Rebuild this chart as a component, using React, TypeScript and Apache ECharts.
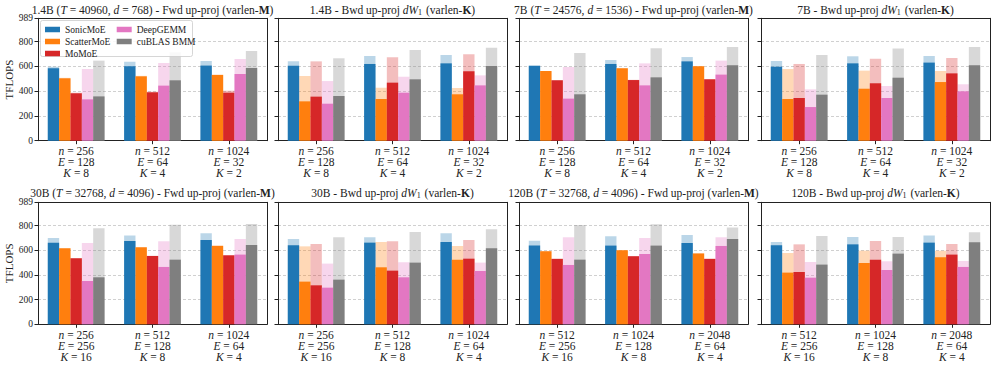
import React, { useEffect, useRef } from "react";
import * as echarts from "echarts";

// ---------- data ----------
const methods = ["SonicMoE", "ScatterMoE", "MoMoE", "DeepGEMM", "cuBLAS BMM"];
const colors = ["#1f77b4", "#ff7f0e", "#d62728", "#e377c2", "#7f7f7f"];
const lightColors = [
  "rgba(31,119,180,0.3)",
  "rgba(255,127,14,0.3)",
  "rgba(214,39,40,0.3)",
  "rgba(227,119,194,0.3)",
  "rgba(127,127,127,0.3)",
];

const modelNames = ["1.4B", "7B", "30B", "120B"];
const tokenCounts = ["40960", "24576", "32768", "32768"];
const hiddenDims = ["768", "1536", "4096", "4096"];

// per model: n, E, K
const nVals = [[256, 512, 1024], [256, 512, 1024], [256, 512, 1024], [512, 1024, 2048]];
const eVals = [[128, 64, 32], [128, 64, 32], [256, 128, 64], [256, 128, 64]];
const kVals = [[8, 4, 2], [8, 4, 2], [16, 8, 4], [16, 8, 4]];

// panels: 1.4B Fwd, 1.4B Bwd, 7B Fwd, 7B Bwd, 30B Fwd, 30B Bwd, 120B Fwd, 120B Bwd
const sonicAchieved = [[585, 601, 607], [606, 620, 625], [604, 620, 641], [598, 625, 631], [662, 676, 684], [640, 662, 667], [638, 638, 659], [640, 648, 662]];
const sonicPeak = [[598, 638, 644], [641, 685, 693], [612, 652, 676], [644, 682, 685], [700, 719, 738], [692, 705, 738], [678, 713, 724], [667, 708, 719]];
const scatterAchieved = [[504, 520, 531], [318, 337, 375], [563, 585, 601], [337, 420, 474], [616, 624, 635], [346, 462, 524], [592, 600, 573], [419, 497, 543]];
const scatterPeak = [[508, 524, 534], [523, 428, 426], [563, 587, 601], [579, 566, 563], [618, 626, 640], [632, 667, 635], [594, 602, 575], [578, 597, 597]];
const momoeAchieved = [[383, 391, 388], [356, 469, 561], [488, 490, 496], [345, 464, 544], [535, 554, 559], [316, 435, 532], [530, 551, 530], [424, 524, 565]];
const momoePeak = [[388, 396, 404], [641, 674, 698], [490, 492, 498], [620, 663, 668], [537, 556, 561], [651, 673, 684], [532, 553, 532], [648, 676, 651]];
const deepgemmAchieved = [[334, 445, 539], [299, 388, 447], [340, 447, 534], [272, 345, 399], [351, 465, 565], [297, 381, 432], [481, 570, 635], [378, 440, 465]];
const deepgemmPeak = [[579, 628, 660], [482, 517, 528], [596, 625, 647], [415, 442, 456], [659, 673, 692], [492, 503, 500], [705, 700, 705], [505, 511, 513]];
const cublasAchieved = [[358, 488, 587], [361, 496, 604], [375, 512, 609], [372, 509, 609], [381, 524, 643], [362, 500, 616], [524, 638, 692], [484, 573, 665]];
const cublasPeak = [[647, 714, 725], [666, 733, 752], [709, 747, 757], [693, 744, 757], [778, 808, 813], [705, 748, 770], [805, 811, 784], [716, 708, 746]];

const yMax = 989;
const yTickInterval = 200;

const achieved = [sonicAchieved, scatterAchieved, momoeAchieved, deepgemmAchieved, cublasAchieved];
const peak = [sonicPeak, scatterPeak, momoePeak, deepgemmPeak, cublasPeak];

// ---------- layout ----------
const FONT = "'Liberation Serif', 'DejaVu Serif', serif";
const TEXT = "#222";
const gridLefts = [38, 278, 519, 761];
const gridWidth = 229;
const gridTops = [18.3, 202.3];
const gridHeights = [122.4, 122];
const titleTops = [3, 186.5];
const barW = 11.35;
const TITLE_FS = 11.5;
const XL_FS = 11.5;

function buildOption() {
  const grid: any[] = [];
  const xAxis: any[] = [];
  const yAxis: any[] = [];
  const series: any[] = [];
  const title: any[] = [];

  for (let p = 0; p < 8; p++) {
    const model = Math.floor(p / 2);
    const isFwd = p % 2 === 0;
    const row = Math.floor(p / 4);
    const col = p % 4;
    const left = gridLefts[col];
    grid.push({ left, top: gridTops[row], width: gridWidth, height: gridHeights[row], containLabel: false });

    const cats = nVals[model].map(
      (n, i) => `{i|n} = ${n}\n{i|E} = ${eVals[model][i]}\n{i|K} = ${kVals[model][i]}`
    );
    const labelRich = {
      i: { fontStyle: "italic", fontFamily: FONT, fontSize: XL_FS, lineHeight: 11, color: TEXT },
    };
    xAxis.push({
      type: "category",
      gridIndex: p,
      data: cats,
      position: "bottom",
      axisLine: { show: true, lineStyle: { color: TEXT, width: 1 } },
      axisTick: { show: true, alignWithLabel: true, length: 3.5, lineStyle: { color: TEXT } },
      axisLabel: { fontFamily: FONT, fontSize: XL_FS, lineHeight: 11, color: TEXT, margin: 5, rich: labelRich },
      splitLine: { show: false },
    });
    xAxis.push({
      type: "category",
      gridIndex: p,
      data: cats,
      position: "top",
      axisLine: { show: true, onZero: false, lineStyle: { color: TEXT, width: 1 } },
      axisTick: { show: false },
      axisLabel: { show: false },
      splitLine: { show: false },
    });
    yAxis.push({
      type: "value",
      gridIndex: p,
      min: 0,
      max: yMax,
      interval: yTickInterval,
      position: "left",
      name: col === 0 ? "TFLOPS" : "",
      nameLocation: "middle",
      nameGap: 22,
      nameTextStyle: { fontFamily: FONT, fontSize: 11, color: TEXT },
      axisLine: { show: true, lineStyle: { color: TEXT, width: 1 } },
      axisTick: { show: true, length: 3.5, lineStyle: { color: TEXT } },
      axisLabel: { show: col === 0, fontFamily: FONT, fontSize: 9.5, color: TEXT, margin: 5 },
      splitLine: { show: true, lineStyle: { color: "#c4c4c4", width: 0.8, type: [3, 2] } },
    });
    yAxis.push({
      type: "value",
      gridIndex: p,
      min: 0,
      max: yMax,
      position: "right",
      axisLine: { show: true, lineStyle: { color: TEXT, width: 1 } },
      axisTick: { show: false },
      axisLabel: { show: false },
      splitLine: { show: false },
    });

    for (let m = 0; m < 5; m++) {
      series.push({
        type: "bar",
        name: methods[m] + " peak",
        xAxisIndex: 2 * p + 1,
        yAxisIndex: 2 * p,
        data: peak[m][p],
        barWidth: barW,
        barGap: "0%",
        itemStyle: { color: lightColors[m] },
        z: 1,
        silent: true,
      });
    }
    for (let m = 0; m < 5; m++) {
      series.push({
        type: "bar",
        name: methods[m],
        xAxisIndex: 2 * p,
        yAxisIndex: 2 * p,
        data: achieved[m][p],
        barWidth: barW,
        barGap: "0%",
        itemStyle: { color: colors[m] },
        z: 2,
        silent: true,
      });
    }

    const head = isFwd
      ? `${modelNames[model]} ({i|T} = ${tokenCounts[model]}, {i|d} = ${hiddenDims[model]}) - Fwd up-proj (varlen-{b|M})`
      : `${modelNames[model]} - Bwd up-proj {i|dW}{s|1} (varlen-{b|K})`;
    title.push({
      text: head,
      left: left + gridWidth / 2,
      top: titleTops[row],
      padding: 0,
      textAlign: "center",
      textStyle: {
        fontFamily: FONT,
        fontSize: TITLE_FS,
        fontWeight: "normal",
        color: TEXT,
        lineHeight: 13,
        rich: {
          i: { fontStyle: "italic", fontFamily: FONT, fontSize: TITLE_FS, color: TEXT, lineHeight: 13 },
          b: { fontWeight: "bold", fontFamily: FONT, fontSize: TITLE_FS, color: TEXT, lineHeight: 13 },
          s: { fontFamily: FONT, fontSize: 8, color: TEXT, lineHeight: 13, padding: [5, 1, 0, 0] },
        },
      },
    });
  }

  const legendCommon = {
    orient: "vertical",
    icon: "rect",
    itemWidth: 15,
    itemHeight: 5.5,
    itemGap: 2,
    padding: 0,
    selectedMode: false,
    textStyle: { fontFamily: FONT, fontSize: 9.5, color: TEXT, lineHeight: 9 },
    z: 10,
  };

  return {
    animation: false,
    backgroundColor: "#ffffff",
    title,
    grid,
    xAxis,
    yAxis,
    series,
    legend: [
      { ...legendCommon, data: methods.slice(0, 3), left: 45, top: 24.5 },
      { ...legendCommon, data: methods.slice(3), left: 116.7, top: 24.5 },
    ],
    graphic: [
      {
        type: "rect",
        z: 5,
        shape: { x: 40.5, y: 20.5, width: 152, height: 36, r: 2 },
        style: { fill: "rgba(255,255,255,0.85)", stroke: "#cccccc", lineWidth: 0.8 },
        silent: true,
      },
    ],
  };
}

export default function App() {
  const ref = useRef<HTMLDivElement>(null);
  useEffect(() => {
    if (!ref.current) return;
    const chart = echarts.init(ref.current, null, { renderer: "svg" });
    chart.setOption(buildOption() as any);
    return () => chart.dispose();
  }, []);
  return (
    <div
      ref={ref}
      style={{ position: "fixed", left: 0, top: 0, width: 996, height: 370, background: "#fff" }}
    />
  );
}
